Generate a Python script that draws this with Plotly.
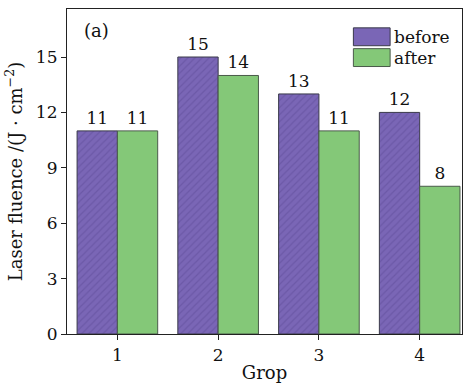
import plotly.graph_objects as go

groups = ["1", "2", "3", "4"]
before = [11, 15, 13, 12]
after = [11, 14, 11, 8]
yticks = [0, 3, 6, 9, 12, 15]

FONT = "DejaVu Serif"
PURPLE = "#7a66b6"
PURPLE_HATCH = "#5e4b98"
GREEN = "#84c878"

fig = go.Figure()
fig.add_trace(go.Bar(
    x=[1, 2, 3, 4], y=before, name="before",
    marker=dict(color=PURPLE, line=dict(color="#3a3a4a", width=1),
                pattern=dict(shape="/", fgcolor=PURPLE_HATCH, bgcolor=PURPLE, size=5, solidity=0.25)),
    text=[str(v) for v in before], textposition="outside", cliponaxis=False,
    textfont=dict(family=FONT, size=17, color="#111"),
))
fig.add_trace(go.Bar(
    x=[1, 2, 3, 4], y=after, name="after",
    marker=dict(color=GREEN, line=dict(color="#4a5a4a", width=1)),
    text=[str(v) for v in after], textposition="outside", cliponaxis=False,
    textfont=dict(family=FONT, size=17, color="#111"),
))

# legend swatches (drawn manually to match the large boxes)
fig.add_shape(type="rect", xref="paper", yref="paper", x0=0.725, x1=0.818, y0=0.887, y1=0.942,
              fillcolor=PURPLE, line=dict(color="#3a3a4a", width=1))
fig.add_shape(type="rect", xref="paper", yref="paper", x0=0.725, x1=0.818, y0=0.823, y1=0.878,
              fillcolor=GREEN, line=dict(color="#4a5a4a", width=1))
fig.add_annotation(xref="paper", yref="paper", x=0.824, y=0.914, text="before", showarrow=False,
                   xanchor="left", yanchor="middle", font=dict(family=FONT, size=17, color="#111"))
fig.add_annotation(xref="paper", yref="paper", x=0.824, y=0.850, text="after", showarrow=False,
                   xanchor="left", yanchor="middle", font=dict(family=FONT, size=17, color="#111"))
fig.add_annotation(xref="paper", yref="paper", x=0.038, y=0.935, text="(a)", showarrow=False,
                   xanchor="left", yanchor="middle", font=dict(family=FONT, size=18, color="#111"))

fig.update_layout(
    width=468, height=384,
    margin=dict(l=67, r=5, t=9, b=46),
    paper_bgcolor="white", plot_bgcolor="white",
    barmode="group", bargap=0.2, bargroupgap=0,
    showlegend=False,
    font=dict(family=FONT, size=17, color="#111"),
)
fig.update_xaxes(
    range=[0.5, 4.42], tickvals=[1, 2, 3, 4], ticktext=groups,
    showline=True, mirror=True, linecolor="#222", linewidth=1.2,
    ticks="outside", ticklen=5, tickcolor="#222", showgrid=False, zeroline=False,
    title=dict(text="Grop", font=dict(family=FONT, size=18), standoff=2),
    tickfont=dict(family=FONT, size=17),
)
fig.update_yaxes(
    range=[0, 17.6], tickvals=yticks,
    showline=True, mirror=True, linecolor="#222", linewidth=1.2,
    ticks="outside", ticklen=5, tickcolor="#222", showgrid=False, zeroline=False,
    title=dict(text="Laser fluence /(J · cm<sup>−2</sup>)", font=dict(family=FONT, size=18), standoff=8),
    tickfont=dict(family=FONT, size=17),
)

fig.write_html("out.html")
